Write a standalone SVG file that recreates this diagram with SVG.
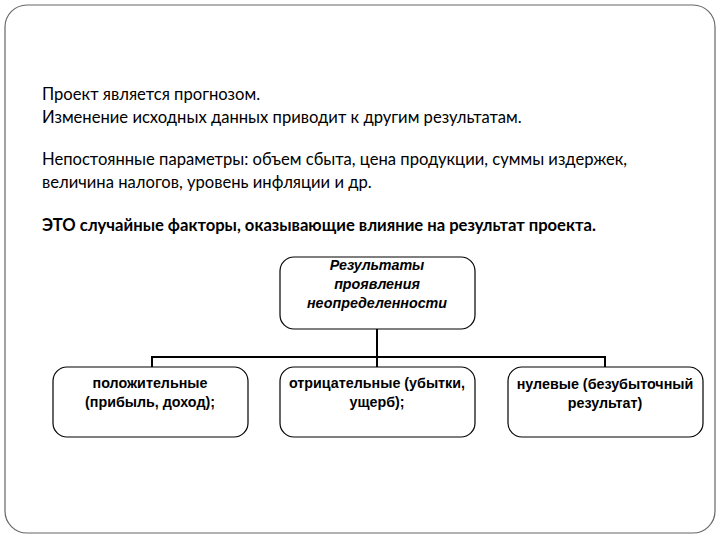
<svg xmlns="http://www.w3.org/2000/svg" width="720" height="540" viewBox="0 0 720 540">
<style>
.t{font-family:Lato,"Liberation Sans",sans-serif;font-size:16.6px;fill:#000}
.b{font-family:"Liberation Sans",Arial,sans-serif;font-size:14.3px;font-weight:bold;fill:#000;text-anchor:middle}
.box{fill:#fff;stroke:#000;stroke-width:1.2}
</style>
<rect width="720" height="540" fill="#fff"/>
<rect x="5" y="5" width="710" height="528" rx="22" fill="#fff" stroke="#666" stroke-width="1.2"/>
<text class="t" x="42" y="100">Проект является прогнозом.</text>
<text class="t" x="42" y="123">Изменение исходных данных приводит к другим результатам.</text>
<text class="t" x="42" y="165">Непостоянные параметры: объем сбыта, цена продукции, суммы издержек,</text>
<text class="t" x="42" y="188">величина налогов, уровень инфляции и др.</text>
<text class="t" x="42" y="231" font-weight="bold">ЭТО случайные факторы, оказывающие влияние на результат проекта.</text>
<g id="connectors" stroke="#000" stroke-width="2" fill="none">
<path d="M377 329V357M152 367V357H605V367M377 357V367"/>
</g>
<g id="root"><rect class="box" x="280" y="257" width="195" height="72" rx="14"/>
<text class="b" font-style="italic" x="377" y="270">Результаты</text>
<text class="b" font-style="italic" x="377" y="289">проявления</text>
<text class="b" font-style="italic" x="377" y="308">неопределенности</text></g>
<g id="n1"><rect class="box" x="53" y="367" width="195" height="70" rx="14"/>
<text class="b" x="150" y="388">положительные</text>
<text class="b" x="150" y="407">(прибыль, доход);</text></g>
<g id="n2"><rect class="box" x="280" y="367" width="195" height="70" rx="14"/>
<text class="b" x="377" y="388">отрицательные (убытки,</text>
<text class="b" x="377" y="407">ущерб);</text></g>
<g id="n3"><rect class="box" x="508" y="367" width="195" height="70" rx="14"/>
<text class="b" x="605" y="389">нулевые (безубыточный</text>
<text class="b" x="605" y="408">результат)</text></g>
</svg>
